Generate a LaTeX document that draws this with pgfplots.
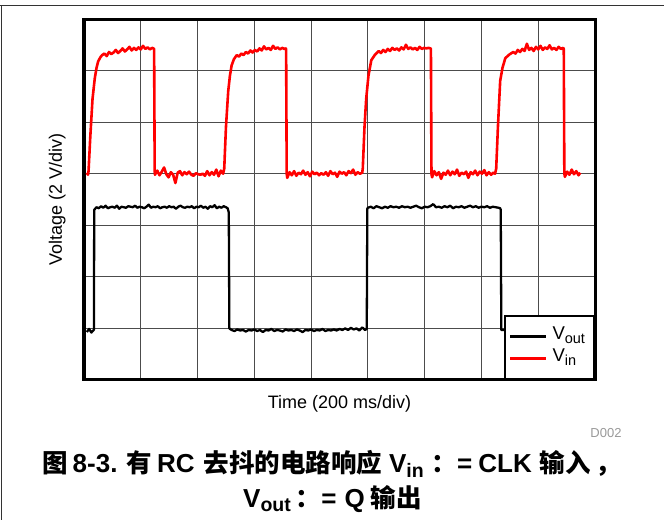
\documentclass[border=0pt]{standalone}
\usepackage{fontspec}
\setmainfont{Liberation Sans}
\newfontfamily\cjkf{Noto Sans CJK SC}
\newcommand\cjk[1]{{\fontsize{25.5bp}{28bp}\cjkf\bfseries #1}}
\usepackage{pgfplots}
\pgfplotsset{compat=1.18}
\newcommand\capsub[1]{\raisebox{-4.5bp}{\fontsize{19.5bp}{20bp}\selectfont #1}}
\newcommand\legsub[1]{\raisebox{-3.5bp}{\fontsize{14.5bp}{15bp}\selectfont #1}}
\begin{document}
\begin{tikzpicture}
\useasboundingbox (0,0) rectangle (664bp,520bp);
\draw[black!80, line width=1bp] (0,514bp) -- (664bp,514bp);
\draw[black!80, line width=1bp] (1bp,514bp) -- (1bp,0);
\begin{axis}[
  at={(84bp,140bp)}, anchor=south west,
  scale only axis, width=511bp, height=361bp,
  xmin=0, xmax=9, ymin=0, ymax=7,
  xtick={0,...,9}, ytick={0,...,7},
  xticklabels={}, yticklabels={},
  major tick length=0pt,
  grid=major,
  grid style={black!70, line width=0.9bp},
  axis line style={line width=3bp},
  xlabel={Time (200 ms/div)},
  ylabel={Voltage (2 V/div)},
  label style={font=\fontsize{18bp}{20bp}\selectfont},
  xlabel style={at={(axis description cs:0.5,-0.0803)}, anchor=base},
  ylabel style={at={(axis description cs:-0.0431,0.5)}, anchor=base},
  legend style={at={(1,0)}, anchor=south east, draw=black, line width=2bp,
    fill=white, font=\fontsize{18.5bp}{20bp}\selectfont,
    inner xsep=4bp, inner ysep=11bp, row sep=3bp,
    nodes={inner xsep=5bp, inner ysep=0pt, text height=13bp, text depth=6bp}},
  legend cell align=left,
  legend image code/.code={\draw[#1] (0bp,0bp) -- (36bp,0bp);},
  every axis plot/.append style={line join=round},
]
% V_out
\addplot[black, line width=2.3bp] coordinates {
(0.05,0.93) (0.09,0.99) (0.13,0.92) (0.17,0.97) (0.175,0.97)
(0.18,3.30) (0.22,3.35) (0.26,3.33) (0.30,3.37) (0.34,3.34) (0.38,3.38)
(0.42,3.33) (0.46,3.35) (0.50,3.36) (0.54,3.34) (0.58,3.38) (0.62,3.32)
(0.66,3.36) (0.70,3.35) (0.74,3.34) (0.78,3.37) (0.82,3.36) (0.86,3.35)
(0.90,3.38) (0.94,3.34) (0.98,3.36) (1.02,3.35) (1.06,3.33) (1.10,3.36)
(1.14,3.40) (1.18,3.34) (1.22,3.36) (1.26,3.35) (1.30,3.37) (1.34,3.33)
(1.38,3.35) (1.42,3.36) (1.46,3.34) (1.50,3.37) (1.54,3.35) (1.58,3.36)
(1.62,3.32) (1.66,3.36) (1.70,3.38) (1.74,3.35) (1.78,3.34) (1.82,3.36)
(1.86,3.35) (1.90,3.37) (1.94,3.33) (1.98,3.36) (2.02,3.35) (2.06,3.38)
(2.10,3.34) (2.14,3.36) (2.18,3.32) (2.22,3.37) (2.26,3.35) (2.30,3.39)
(2.34,3.33) (2.38,3.36) (2.42,3.34) (2.46,3.37) (2.50,3.35) (2.53,3.33)
(2.55,3.25) (2.56,1.00)
(2.60,0.97) (2.65,0.95) (2.70,0.98) (2.75,0.96) (2.80,0.97) (2.85,0.94)
(2.90,0.97) (2.95,0.96) (3.00,0.98) (3.05,0.95) (3.10,0.97) (3.15,0.93)
(3.20,0.97) (3.25,0.96) (3.30,0.99) (3.35,0.95) (3.40,0.97) (3.45,0.96)
(3.50,0.94) (3.55,0.98) (3.60,0.96) (3.65,0.97) (3.70,0.95) (3.75,0.98)
(3.80,0.96) (3.85,0.93) (3.90,0.97) (3.95,0.96) (4.00,0.98) (4.05,0.95)
(4.10,0.97) (4.15,0.96) (4.20,0.99) (4.25,0.95) (4.30,0.97) (4.35,0.96)
(4.40,0.98) (4.45,0.96) (4.50,0.99) (4.55,0.97) (4.60,1.00) (4.65,0.97)
(4.70,1.01) (4.75,0.98) (4.80,1.00) (4.85,0.96) (4.90,1.02) (4.95,0.97)
(4.98,0.99)
(4.99,3.32) (5.00,3.34) (5.05,3.36) (5.10,3.33) (5.15,3.37) (5.20,3.35)
(5.25,3.33) (5.30,3.36) (5.35,3.34) (5.40,3.37) (5.45,3.35) (5.50,3.36)
(5.55,3.34) (5.60,3.37) (5.65,3.35) (5.70,3.36) (5.75,3.34) (5.80,3.36)
(5.85,3.38) (5.90,3.35) (5.95,3.33) (6.00,3.36) (6.05,3.35) (6.10,3.37)
(6.15,3.41) (6.20,3.35) (6.25,3.36) (6.30,3.34) (6.35,3.37) (6.40,3.35)
(6.45,3.38) (6.50,3.33) (6.55,3.36) (6.60,3.35) (6.65,3.37) (6.70,3.34)
(6.75,3.36) (6.80,3.38) (6.85,3.35) (6.90,3.37) (6.95,3.34) (7.00,3.36)
(7.05,3.35) (7.10,3.37) (7.15,3.34) (7.20,3.36) (7.25,3.35) (7.30,3.34)
(7.33,3.33)
(7.34,3.30) (7.35,0.97) (7.40,0.97) (8.00,0.96) (8.74,0.97)
};
\addlegendentry{V\legsub{out}}
% V_in
\addplot[red, line width=2.6bp] coordinates {
(0.05,4.02) (0.07,3.98)
(0.08,4.05) (0.11,4.70) (0.15,5.45) (0.19,5.85) (0.22,6.05) (0.25,6.18) (0.29,6.26)
(0.32,6.30) (0.36,6.33) (0.40,6.28) (0.44,6.36) (0.48,6.32) (0.52,6.35)
(0.56,6.40) (0.60,6.34) (0.64,6.38) (0.68,6.43) (0.72,6.37) (0.76,6.41)
(0.80,6.46) (0.84,6.39) (0.88,6.44) (0.92,6.40) (0.96,6.45) (1.00,6.41)
(1.04,6.48) (1.08,6.42) (1.12,6.45) (1.16,6.41) (1.20,6.44) (1.22,6.43)
(1.235,6.42) (1.245,4.05)
(1.25,3.98) (1.29,4.06) (1.33,3.97) (1.37,4.04) (1.41,4.12) (1.45,3.99)
(1.49,3.93) (1.53,4.03) (1.57,3.98) (1.61,3.82) (1.65,4.02) (1.69,4.05)
(1.73,3.97) (1.77,4.03) (1.81,3.99) (1.85,4.04) (1.89,3.98) (1.93,3.96)
(1.97,4.01) (2.01,3.99) (2.05,3.98) (2.09,4.00) (2.13,3.96) (2.17,4.05)
(2.21,3.97) (2.25,4.03) (2.29,3.98) (2.33,4.08) (2.37,3.95) (2.41,4.06)
(2.45,4.00)
(2.47,4.10) (2.50,4.90) (2.54,5.60) (2.57,5.90) (2.60,6.10) (2.64,6.22) (2.69,6.30)
(2.73,6.27) (2.77,6.33) (2.81,6.30) (2.85,6.36) (2.89,6.33) (2.93,6.39)
(2.97,6.35) (3.01,6.40) (3.05,6.37) (3.09,6.43) (3.13,6.39) (3.17,6.47)
(3.21,6.41) (3.25,6.44) (3.29,6.40) (3.33,6.48) (3.37,6.42) (3.41,6.45)
(3.45,6.41) (3.49,6.44) (3.53,6.42) (3.55,6.43)
(3.56,6.42) (3.57,4.00)
(3.58,3.92) (3.62,4.03) (3.66,3.97) (3.70,4.05) (3.74,3.96) (3.78,4.02)
(3.82,3.99) (3.86,4.06) (3.90,3.98) (3.94,4.03) (3.98,3.95) (4.02,4.04)
(4.06,3.99) (4.10,4.02) (4.14,3.97) (4.18,4.01) (4.22,3.98) (4.26,4.03)
(4.30,3.96) (4.34,4.05) (4.38,3.99) (4.42,4.02) (4.46,3.94) (4.50,4.04)
(4.54,4.00) (4.58,4.03) (4.62,3.97) (4.66,4.05) (4.70,4.01) (4.74,4.08)
(4.78,3.98) (4.82,4.03) (4.86,4.00) (4.90,4.02)
(4.91,4.10) (4.94,4.90) (4.97,5.45) (5.01,5.90) (5.06,6.20) (5.12,6.30) (5.19,6.38)
(5.23,6.34) (5.27,6.40) (5.31,6.36) (5.35,6.42) (5.39,6.38) (5.43,6.44)
(5.47,6.40) (5.51,6.43) (5.55,6.39) (5.59,6.45) (5.63,6.41) (5.67,6.50)
(5.71,6.42) (5.75,6.45) (5.79,6.41) (5.83,6.44) (5.87,6.40) (5.91,6.46)
(5.95,6.42) (5.99,6.44) (6.03,6.43) (6.07,6.44) (6.10,6.43)
(6.11,6.42) (6.12,4.00)
(6.13,3.93) (6.17,4.05) (6.21,3.97) (6.25,4.03) (6.29,3.90) (6.33,4.02)
(6.37,3.98) (6.41,4.06) (6.45,3.97) (6.49,4.04) (6.53,3.99) (6.57,4.08)
(6.61,3.96) (6.65,4.02) (6.69,3.99) (6.73,4.04) (6.77,3.92) (6.81,4.03)
(6.85,3.99) (6.89,4.06) (6.93,3.97) (6.97,4.04) (7.01,4.00) (7.05,4.07)
(7.09,3.97) (7.13,4.03) (7.17,3.98) (7.21,4.02) (7.24,4.00)
(7.26,4.10) (7.29,4.90) (7.33,5.80) (7.37,6.05) (7.42,6.24) (7.49,6.31) (7.56,6.36)
(7.60,6.33) (7.64,6.40) (7.68,6.36) (7.72,6.42) (7.76,6.38) (7.80,6.52)
(7.84,6.40) (7.88,6.44) (7.92,6.38) (7.96,6.46) (8.00,6.41) (8.04,6.48)
(8.08,6.40) (8.12,6.45) (8.16,6.42) (8.20,6.49) (8.24,6.41) (8.28,6.44)
(8.32,6.40) (8.36,6.46) (8.40,6.42) (8.44,6.44)
(8.45,6.42) (8.46,4.00)
(8.47,3.94) (8.51,4.04) (8.55,3.98) (8.59,4.08) (8.63,3.99) (8.67,4.05)
(8.71,3.97) (8.74,4.02)
};
\addlegendentry{V\legsub{in}}
\end{axis}
\node[anchor=base east, text=black!40, font=\fontsize{13bp}{15bp}\selectfont] at (625bp,82bp) {D002};
\node[anchor=base west, inner sep=0pt, font=\fontsize{26bp}{28bp}\selectfont\bfseries] at (42bp,47bp)
  {\cjk{图}\hspace{5bp}8-3.\hspace{9bp}\cjk{有}\hspace{5bp}RC\hspace{9bp}\cjk{去抖的电路响应}\hspace{7bp}V\capsub{in}\hspace{8bp}\cjk{：}=\hspace{6bp}CLK\hspace{8bp}\cjk{输入}\hspace{5bp}\cjk{，}};
\node[anchor=base west, inner sep=0pt, font=\fontsize{26bp}{28bp}\selectfont\bfseries] at (243bp,13bp)
  {V\capsub{out}\hspace{5bp}\cjk{：}=\hspace{8bp}Q\hspace{6bp}\cjk{输出}};
\end{tikzpicture}
\end{document}
